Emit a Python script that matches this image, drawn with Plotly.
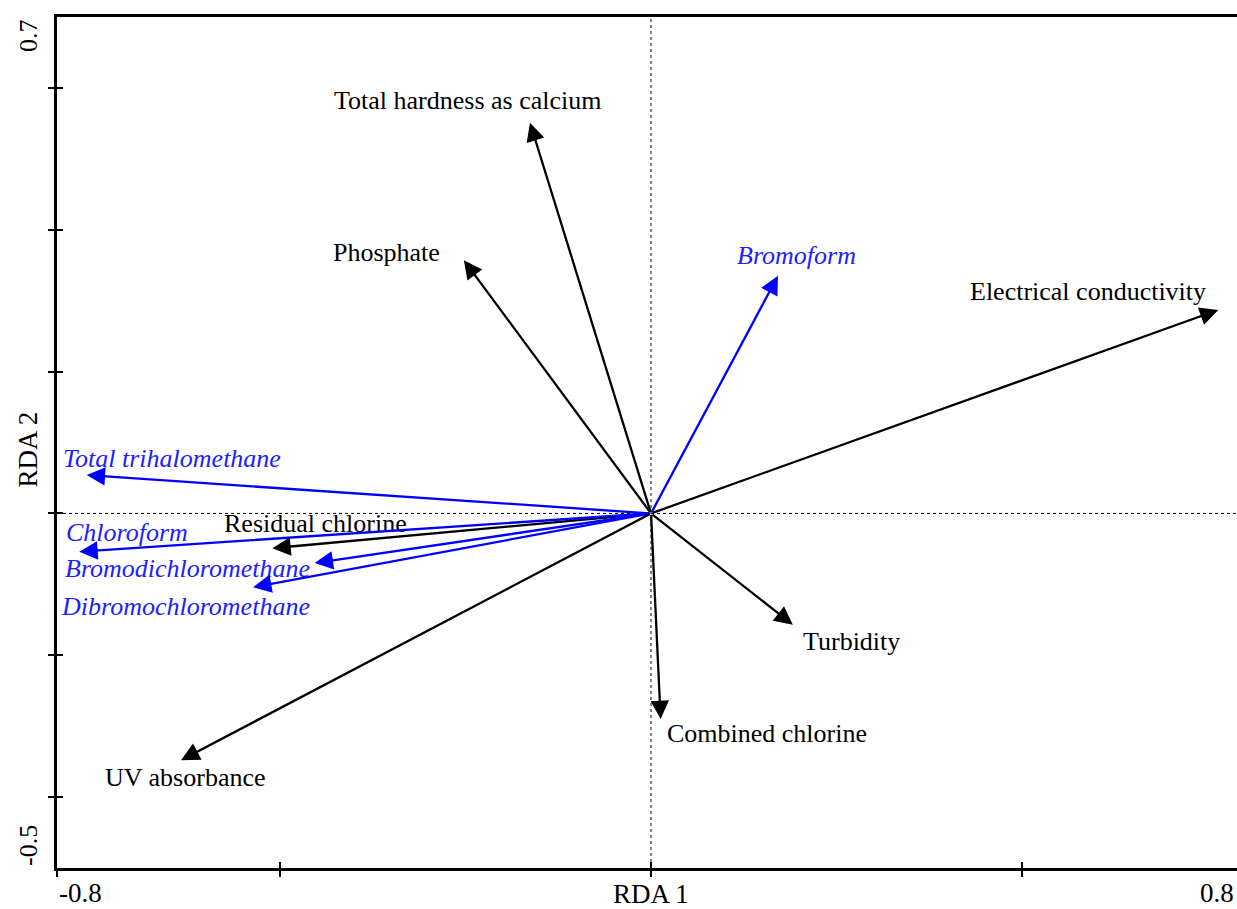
import plotly.graph_objects as go

# ---- data (RDA biplot arrow tips) ----
variables = ["Total hardness as calcium", "Phosphate", "Bromoform", "Electrical conductivity",
             "Total trihalomethane", "Residual chlorine", "Chloroform", "Bromodichloromethane",
             "Dibromochloromethane", "Turbidity", "Combined chlorine", "UV absorbance"]
rda1 = [-0.163, -0.252, 0.171, 0.764, -0.760, -0.510, -0.770, -0.453, -0.536, 0.191, 0.013, -0.633]
rda2 = [0.551, 0.357, 0.335, 0.287, 0.054, -0.049, -0.054, -0.070, -0.104, -0.157, -0.290, -0.348]
is_thm = [False, False, True, False, True, False, True, True, True, False, False, False]

# label placement (data coords) and anchors -- layout only
label_pos = {
    "Total hardness as calcium": (-0.2465, 0.5816, "center"),
    "Phosphate": (-0.3556, 0.3673, "center"),
    "Bromoform": (0.1966, 0.3644, "center"),
    "Electrical conductivity": (0.5886, 0.3136, "center"),
    "Total trihalomethane": (-0.7946, 0.0781, "left"),
    "Residual chlorine": (-0.4525, -0.0136, "center"),
    "Chloroform": (-0.7906, -0.0263, "left"),
    "Bromodichloromethane": (-0.792, -0.0770, "left"),
    "Dibromochloromethane": (-0.797, -0.1306, "left"),
    "Turbidity": (0.2694, -0.1799, "center"),
    "Combined chlorine": (0.1562, -0.3110, "center"),
    "UV absorbance": (-0.738, -0.3730, "left"),
}

FONT = "Liberation Serif"
BLUE = "#0000ff"
TXT_BLUE = "#2020ff"

fig = go.Figure()
fig.add_trace(go.Scatter(x=[0], y=[0], mode="markers", marker=dict(opacity=0), showlegend=False,
                         hoverinfo="skip"))
fig.add_trace(go.Scatter(x=[0], y=[0], mode="markers", marker=dict(opacity=0), showlegend=False,
                         hoverinfo="skip", xaxis="x2", yaxis="y2"))

XR = [-0.8, 0.7892]
YR = [-0.5, 0.7]

# dotted reference lines
fig.add_shape(type="line", x0=0, x1=0, y0=YR[0], y1=YR[1], xref="x", yref="y",
              line=dict(color="black", width=1, dash="dot"))
fig.add_shape(type="line", x0=XR[0], x1=XR[1], y0=0, y1=0, xref="x", yref="y",
              line=dict(color="black", width=1, dash="dot"))

annotations = []
for name, x, y, thm in zip(variables, rda1, rda2, is_thm):
    col = BLUE if thm else "black"
    annotations.append(dict(x=x, y=y, ax=0, ay=0, xref="x", yref="y", axref="x", ayref="y",
                            text="", showarrow=True, arrowhead=2, arrowsize=1.6, arrowwidth=2.3,
                            arrowcolor=col))
    lx, ly, anc = label_pos[name]
    annotations.append(dict(x=lx, y=ly, xref="x", yref="y", text=name, showarrow=False,
                            xanchor=anc, yanchor="middle",
                            font=dict(family=FONT, size=26, color=TXT_BLUE if thm else "black",
                                      style="italic" if thm else "normal")))

# axis end labels and titles
annotations += [
    dict(x=-0.8, y=0, xref="x", yref="paper", text="-0.8", showarrow=False, xanchor="left",
         yanchor="top", yshift=-8, font=dict(family=FONT, size=27, color="black")),
    dict(x=1.0, y=0, xref="paper", yref="paper", text="0.8", showarrow=False, xanchor="right",
         yanchor="top", xshift=-1, yshift=-8, font=dict(family=FONT, size=27, color="black")),
    dict(x=0, y=0, xref="x", yref="paper", text="RDA 1", showarrow=False, xanchor="center",
         yanchor="top", yshift=-9, font=dict(family=FONT, size=27, color="black")),
    dict(x=0, y=0.7, xref="paper", yref="y", text="0.7", showarrow=False, xanchor="right",
         yanchor="top", xshift=-12, textangle=-90, font=dict(family=FONT, size=26, color="black")),
    dict(x=0, y=-0.5, xref="paper", yref="y", text="-0.5", showarrow=False, xanchor="right",
         yanchor="bottom", xshift=-12, textangle=-90, font=dict(family=FONT, size=26, color="black")),
    dict(x=0, y=0.09, xref="paper", yref="y", text="RDA 2", showarrow=False, xanchor="right",
         yanchor="middle", xshift=-12, textangle=-90, font=dict(family=FONT, size=27, color="black")),
]

fig.update_layout(
    width=1237, height=909,
    margin=dict(l=57, r=0, t=17, b=41),
    paper_bgcolor="white", plot_bgcolor="white",
    showlegend=False,
    annotations=annotations,
    xaxis=dict(range=XR, showgrid=False, zeroline=False, showline=True, linecolor="black",
               linewidth=3, mirror=True, ticks="outside", ticklen=6, tickwidth=2,
               tickcolor="black", tickvals=[-0.8, -0.5, 0, 0.5], showticklabels=False),
    yaxis=dict(range=YR, showgrid=False, zeroline=False, showline=True, linecolor="black",
               linewidth=3, mirror=False, ticks="outside", ticklen=6, tickwidth=2,
               tickcolor="black", tickvals=[-0.4, -0.2, 0, 0.2, 0.4, 0.6], showticklabels=False),
    xaxis2=dict(range=XR, overlaying="x", showgrid=False, zeroline=False, showline=False,
                ticks="inside", ticklen=6, tickwidth=2, tickcolor="black",
                tickvals=[-0.5, 0, 0.5], showticklabels=False, side="bottom", anchor="y2"),
    yaxis2=dict(range=YR, overlaying="y", showgrid=False, zeroline=False, showline=False,
                ticks="inside", ticklen=6, tickwidth=2, tickcolor="black",
                tickvals=[-0.4, -0.2, 0, 0.2, 0.4, 0.6], showticklabels=False, side="left",
                anchor="x2"),
)

fig.write_html("out.html", config={"displayModeBar": False},
               post_script="document.body.style.margin='0';document.body.style.overflow='hidden';")
